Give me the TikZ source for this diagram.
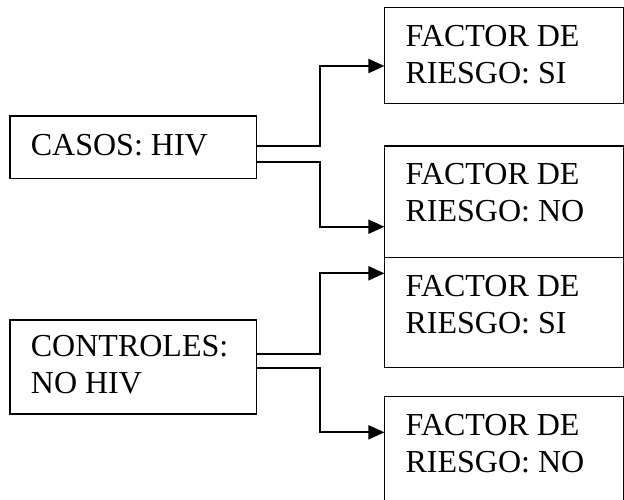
\documentclass[tikz,border=0pt]{standalone}
\usepackage{fontspec}
\setmainfont{Liberation Serif}
\usetikzlibrary{arrows.meta}
\begin{document}
\begin{tikzpicture}[x=1pt,y=-1pt,
  boxnode/.style={draw=black,line width=1.3pt,anchor=north west,inner sep=0pt,outer sep=0pt},
  txt/.style={anchor=north west,inner sep=0pt,align=left,font=\fontsize{32}{37}\selectfont},
  conn/.style={line width=2pt,-{Triangle[length=16pt,width=14pt]}}]
\useasboundingbox (0,0) rectangle (624,499);
% boxes
\node[boxnode,minimum width=246.7pt,minimum height=62.3pt] (cas) at (10,116) {};
\node[boxnode,minimum width=246.7pt,minimum height=94pt] (con) at (10,320) {};
\node[boxnode,minimum width=238.9pt,minimum height=96pt] (b1) at (384.4,7.3) {};
\node[boxnode,minimum width=238.9pt,minimum height=111.7pt] (b2) at (384.4,146) {};
\node[boxnode,minimum width=238.9pt,minimum height=110pt] (b3) at (384.4,257.7) {};
\node[boxnode,minimum width=238.9pt,minimum height=110pt] (b4) at (384.4,396.7) {};
% texts
\node[txt] (tcas) at ([xshift=20.7pt,yshift=-18.3pt]cas.north west) {CASOS: HIV};
\node[txt] (tcon) at ([xshift=20.7pt,yshift=-15pt]con.north west) {CONTROLES:\\NO HIV};
\node[txt] (t1) at ([xshift=21pt,yshift=-18pt]b1.north west) {FACTOR DE\\RIESGO: SI};
\node[txt] (t2) at ([xshift=21pt,yshift=-17.5pt]b2.north west) {FACTOR DE\\RIESGO: NO};
\node[txt] (t3) at ([xshift=21pt,yshift=-17.5pt]b3.north west) {FACTOR DE\\RIESGO: SI};
\node[txt] (t4) at ([xshift=21pt,yshift=-17pt]b4.north west) {FACTOR DE\\RIESGO: NO};
% connectors
\draw[conn] ([yshift=-29.7pt]cas.north east) -- ++(63.3,0) |- ([yshift=-58.7pt]b1.north west);
\draw[conn] ([yshift=-46pt]cas.north east) -- ++(63.3,0) |- ([yshift=-80.7pt]b2.north west);
\draw[conn] ([yshift=-34.3pt]con.north east) -- ++(63.3,0) |- ([yshift=-15.6pt]b3.north west);
\draw[conn] ([yshift=-47.7pt]con.north east) -- ++(63.3,0) |- ([yshift=-35.6pt]b4.north west);
\end{tikzpicture}
\end{document}
